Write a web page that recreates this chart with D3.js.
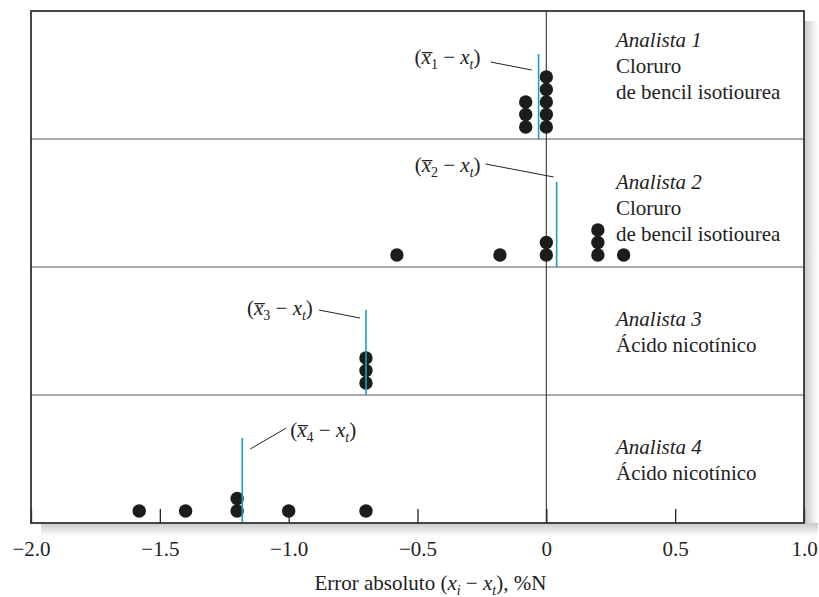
<!DOCTYPE html>
<html><head><meta charset="utf-8">
<script src="https://cdn.jsdelivr.net/npm/d3@7"></script>
<style>
html,body{margin:0;padding:0;background:#fff;}
svg{display:block;font-family:"Liberation Serif","Times New Roman",serif;}
</style></head>
<body>
<svg id="chart" width="819" height="597"></svg>
<script>
// ---- data ----
const xTicks = [-2.0, -1.5, -1.0, -0.5, 0, 0.5, 1.0];
const analystNames = ["Analista 1", "Analista 2", "Analista 3", "Analista 4"];
const compoundNames = [["Cloruro", "de bencil isotiourea"], ["Cloruro", "de bencil isotiourea"], ["Ácido nicotínico"], ["Ácido nicotínico"]];
const errors1 = [-0.08, -0.08, -0.08, 0, 0, 0, 0, 0];
const errors2 = [-0.58, -0.18, 0, 0, 0.2, 0.2, 0.2, 0.3];
const errors3 = [-0.7, -0.7, -0.7];
const errors4 = [-1.58, -1.4, -1.2, -1.2, -1.0, -0.7];
const meanErrors = [-0.03, 0.04, -0.7, -1.18];
const meanSubs = ["1", "2", "3", "4"];

// ---- layout ----
const svg = d3.select("#chart");
const L = 31, T = 11, W = 773, H = 512;
const nP = 4, pH = H / nP;
const FS = 21, FSsub = 14;
const x = d3.scaleLinear().domain([-2, 1]).range([L, L + W]);
const panelY = d3.scaleBand().domain(d3.range(nP)).range([T, T + H]).padding(0);
const allErrors = [errors1, errors2, errors3, errors4];

// shadow
const defs = svg.append("defs");
const gr = defs.append("linearGradient").attr("id", "shR").attr("x1", 0).attr("x2", 1).attr("y1", 0).attr("y2", 0);
gr.append("stop").attr("offset", 0).attr("stop-color", "#c8c8c8");
gr.append("stop").attr("offset", 1).attr("stop-color", "#ffffff");
const gb = defs.append("linearGradient").attr("id", "shB").attr("x1", 0).attr("x2", 0).attr("y1", 0).attr("y2", 1);
gb.append("stop").attr("offset", 0).attr("stop-color", "#c8c8c8");
gb.append("stop").attr("offset", 1).attr("stop-color", "#ffffff");
svg.append("rect").attr("x", L + W).attr("y", T + 10).attr("width", 14).attr("height", H + 2).attr("fill", "url(#shR)");
svg.append("rect").attr("x", L + 10).attr("y", T + H).attr("width", W + 4).attr("height", 13).attr("fill", "url(#shB)");

svg.append("rect").attr("x", L).attr("y", T).attr("width", W).attr("height", H).attr("fill", "#fff");

// panel separators
svg.selectAll("line.sep").data(d3.range(1, nP)).join("line").attr("class", "sep")
  .attr("x1", L).attr("x2", L + W)
  .attr("y1", d => panelY(d)).attr("y2", d => panelY(d))
  .attr("stroke", "#555").attr("stroke-width", 1.2);

// zero line
svg.append("line").attr("x1", x(0)).attr("x2", x(0)).attr("y1", T).attr("y2", T + H)
  .attr("stroke", "#444").attr("stroke-width", 1.2);

// axis
const axis = d3.axisBottom(x).tickValues(xTicks).tickSizeInner(-14).tickSizeOuter(0).tickPadding(18)
  .tickFormat(d => d === 0 ? "0" : (d < 0 ? "\u2212" : "") + Math.abs(d).toFixed(1));
const ag = svg.append("g").attr("transform", `translate(0,${T + H})`).call(axis);
ag.select(".domain").remove();
ag.selectAll(".tick line").attr("stroke", "#222").attr("stroke-width", 1.3);
ag.selectAll(".tick text").attr("font-family", "Liberation Serif").attr("font-size", FS).attr("fill", "#222");

// dots
const rDot = 6.7, stepDot = 12.5;
allErrors.forEach((vals, p) => {
  const counts = {};
  const pts = vals.map(v => { const k = v.toFixed(3); counts[k] = (counts[k] || 0); const i = counts[k]++; return { v, i }; });
  const bottom = panelY(p) + pH;
  svg.append("g").selectAll("circle").data(pts).join("circle")
    .attr("cx", d => x(d.v)).attr("cy", d => bottom - 12 - d.i * stepDot)
    .attr("r", rDot).attr("fill", "#1c1c1c");
});

// mean lines
svg.selectAll("line.mean").data(meanErrors).join("line").attr("class", "mean")
  .attr("x1", d => x(d)).attr("x2", d => x(d))
  .attr("y1", (d, i) => panelY(i) + pH - 85).attr("y2", (d, i) => panelY(i) + pH)
  .attr("stroke", "#1a9fbf").attr("stroke-width", 1.6);

// mean labels
const annLayout = [
  { tx: -124, ty: 53, l1: [-48, 51], l2: [-7, 59] },
  { tx: -142, ty: 33, l1: [-71, 25], l2: [-3, 38] },
  { tx: -119, ty: 48, l1: [-47, 43], l2: [-6, 51] },
  { tx: 48, ty: 42, l1: [8, 54], l2: [44, 33] }
];
meanErrors.forEach((m, i) => {
  const a = annLayout[i];
  const mx = x(m), top = panelY(i);
  const t = svg.append("text").attr("x", mx + a.tx).attr("y", top + a.ty)
    .attr("font-size", FS).attr("fill", "#222");
  t.append("tspan").text("(");
  t.append("tspan").attr("font-style", "italic").text("x\u0305");
  t.append("tspan").attr("font-size", FSsub).attr("dy", 5).text(meanSubs[i]);
  t.append("tspan").attr("dy", -5).text(" \u2212 ");
  t.append("tspan").attr("font-style", "italic").text("x");
  t.append("tspan").attr("font-style", "italic").attr("font-size", FSsub).attr("dy", 5).text("t");
  t.append("tspan").attr("dy", -5).text(")");
  svg.append("line").attr("x1", mx + a.l1[0]).attr("y1", top + a.l1[1])
    .attr("x2", mx + a.l2[0]).attr("y2", top + a.l2[1])
    .attr("stroke", "#222").attr("stroke-width", 1);
});

// right labels
const labelTop = [36, 50, 59, 59];
analystNames.forEach((nm, i) => {
  const top = panelY(i);
  const t = svg.append("text").attr("x", 616).attr("y", top + labelTop[i]).attr("font-size", FS).attr("fill", "#222");
  t.append("tspan").attr("font-style", "italic").text(nm);
  compoundNames[i].forEach(c => {
    t.append("tspan").attr("x", 616).attr("dy", 26).text(c);
  });
});

// frame
svg.append("rect").attr("x", L).attr("y", T).attr("width", W).attr("height", H)
  .attr("fill", "none").attr("stroke", "#333").attr("stroke-width", 1.8);

// x title
const xt = svg.append("text").attr("x", x(-0.45)).attr("y", 590).attr("text-anchor", "middle")
  .attr("font-size", FS).attr("fill", "#222");
xt.append("tspan").text("Error absoluto (");
xt.append("tspan").attr("font-style", "italic").text("x");
xt.append("tspan").attr("font-style", "italic").attr("font-size", FSsub).attr("dy", 5).text("i");
xt.append("tspan").attr("dy", -5).text(" \u2212 ");
xt.append("tspan").attr("font-style", "italic").text("x");
xt.append("tspan").attr("font-style", "italic").attr("font-size", FSsub).attr("dy", 5).text("t");
xt.append("tspan").attr("dy", -5).text("), %N");
</script>
</body></html>
